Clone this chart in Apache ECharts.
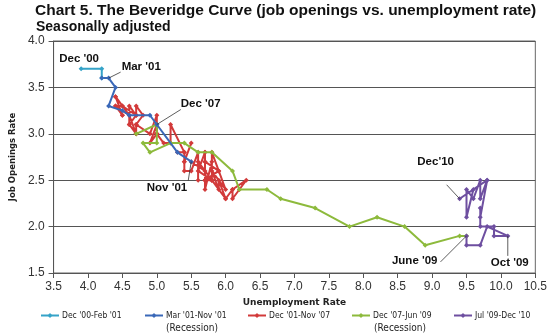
<!DOCTYPE html>
<html><head><meta charset="utf-8">
<script src="https://cdn.jsdelivr.net/npm/echarts@6/dist/echarts.min.js"></script>
<style>html,body{margin:0;padding:0;background:#fff}#c{width:550px;height:334px}</style>
</head><body><div id="c"></div>
<script>
// Dec '00 - Feb '01
const tealU = [3.9, 4.2, 4.2];
const tealJ = [3.7, 3.7, 3.6];
// Mar '01 - Nov '01 (Recession)
const blueU = [4.3, 4.4, 4.3, 4.5, 4.6, 4.9, 5.0, 5.3, 5.5];
const blueJ = [3.6, 3.5, 3.3, 3.25, 3.2, 3.2, 3.1, 2.8, 2.7];
// Dec '01 - Nov '07
const redU = [5.7,
  5.7,5.7,5.7,5.9,5.8,5.8,5.8,5.7,5.7,5.7,5.9,6.0,
  5.8,5.9,5.9,6.0,6.1,6.3,6.2,6.1,6.1,6.0,5.8,5.7,
  5.7,5.6,5.8,5.6,5.6,5.6,5.5,5.4,5.4,5.5,5.4,5.4,
  5.3,5.4,5.2,5.2,5.1,5.0,5.0,4.9,5.0,5.0,5.0,4.9,
  4.7,4.8,4.7,4.7,4.6,4.6,4.7,4.7,4.5,4.4,4.5,4.4,
  4.6,4.5,4.4,4.5,4.4,4.6,4.7,4.6,4.7,4.7,4.7];
const redJ = [2.6,
  2.8,2.5,2.7,2.6,2.8,2.5,2.7,2.4,2.7,2.5,2.6,2.4,
  2.6,2.4,2.5,2.3,2.4,2.5,2.4,2.3,2.4,2.3,2.5,2.5,
  2.8,2.6,2.5,2.7,2.5,2.8,2.6,2.6,2.7,2.9,2.7,2.8,
  2.8,2.8,3.1,2.9,2.9,3.0,3.0,2.9,3.1,3.0,3.2,3.0,
  3.1,3.2,3.3,3.2,3.3,3.1,3.2,3.2,3.3,3.4,3.2,3.3,
  3.2,3.3,3.3,3.2,3.4,3.2,3.0,3.1,3.0,3.1,3.0];
// Dec '07 - Jun '09 (Recession)
const greenU = [5.0,5.0,4.8,4.9,5.2,5.4,5.6,5.8,6.1,6.2,6.6,6.8,7.3,7.8,8.2,8.6,8.9,9.4,9.5];
const greenJ = [3.1,2.9,2.9,2.8,2.9,2.9,2.8,2.8,2.6,2.4,2.4,2.3,2.2,2.0,2.1,2.0,1.8,1.9,1.9];
// Jul '09 - Dec '10
const purpleU = [9.5,9.7,9.8,10.1,9.9,9.9,9.7,9.7,9.7,9.8,9.6,9.5,9.5,9.6,9.7,9.7,9.8,9.4];
const purpleJ = [1.8,1.8,2.0,1.9,1.9,2.0,2.0,2.2,2.1,2.5,2.4,2.1,2.4,2.3,2.5,2.3,2.5,2.3];

const seriesNames = ["Dec '00-Feb '01", "Mar '01-Nov '01", "Dec '01-Nov '07", "Dec '07-Jun '09", "Jul '09-Dec '10"];
const xTicks = ["3.5","4.0","4.5","5.0","5.5","6.0","6.5","7.0","7.5","8.0","8.5","9.0","9.5","10.0","10.5"];
const yTicks = ["1.5","2.0","2.5","3.0","3.5","4.0"];

const colors = ['#35A3C8', '#3A68B8', '#D23A3A', '#8DBA3C', '#6E4FA0'];
const sets = [[tealU,tealJ],[blueU,blueJ],[redU,redJ],[greenU,greenJ],[purpleU,purpleJ]];

const series = sets.map((s, i) => {
  const pts = s[0].map((u, k) => [u, s[1][k]]);
  if (i > 0) { const p = sets[i-1]; const n = p[0].length; pts.unshift([p[0][n-1], p[1][n-1]]); }
  return {
    name: seriesNames[i], type: 'line', data: pts, color: colors[i],
    symbol: 'diamond', symbolSize: 5, showSymbol: true,
    lineStyle: { width: 2, color: colors[i] }, itemStyle: { color: colors[i] },
    z: i === 3 ? 4 : (i === 2 ? 3 : 5), animation: false
  };
});

const legendLeft = [40, 144, 247, 351, 453];
const legends = seriesNames.map((n, i) => ({
  data: [n], left: legendLeft[i], top: 311, padding: 0, itemWidth: 18, itemHeight: 6, itemGap: 2,
  textStyle: { fontSize: 8.5, color: '#222', fontFamily: 'DejaVu Sans Condensed, DejaVu Sans', padding: [0,0,0,-2] },
  selectedMode: false
}));

const chart = echarts.init(document.getElementById('c'), null, { renderer: 'canvas' });
const FF = 'DejaVu Sans';
chart.setOption({
  animation: false,
  backgroundColor: '#fff',
  title: [
    { text: 'Chart 5. The Beveridge Curve (job openings vs. unemployment rate)', left: 35, top: 3, padding: 0,
      textStyle: { fontSize: 15.5, fontWeight: 'bold', color: '#111', fontFamily: 'Liberation Sans' } },
    { text: 'Seasonally adjusted', left: 36, top: 20, padding: 0,
      textStyle: { fontSize: 14, fontWeight: 'bold', color: '#111', fontFamily: 'Liberation Sans' } }
  ],
  legend: legends,
  grid: { left: 43, right: 13, top: 41, bottom: 61, show: true, borderColor: '#666', borderWidth: 1 },
  xAxis: {
    type: 'value', min: 3.5, max: 10.5, interval: 0.5,
    name: 'Unemployment Rate', nameLocation: 'middle', nameGap: 24,
    nameTextStyle: { fontSize: 9, fontWeight: 'bold', color: '#222', fontFamily: FF },
    axisLine: { lineStyle: { color: '#555' } },
    axisTick: { show: true, length: 5, lineStyle: { color: '#555' } },
    axisLabel: { fontSize: 12, color: '#333', margin: 8, fontFamily: 'Liberation Sans',
      formatter: v => xTicks[Math.round((v - 3.5) / 0.5)] },
    splitLine: { show: false }
  },
  yAxis: {
    type: 'value', min: 1.5, max: 4.0, interval: 0.5,
    name: 'Job Openings Rate', nameLocation: 'middle', nameGap: 32, nameRotate: 90,
    nameTextStyle: { fontSize: 8.5, fontWeight: 'bold', color: '#222', fontFamily: FF },
    axisLine: { show: true, lineStyle: { color: '#555' } },
    axisTick: { show: true, length: 5, lineStyle: { color: '#555' } },
    axisLabel: { fontSize: 12, color: '#333', margin: 9, fontFamily: 'Liberation Sans',
      formatter: v => yTicks[Math.round((v - 1.5) / 0.5)] },
    splitLine: { show: true, lineStyle: { color: '#555', width: 1 } }
  },
  series: series
});

// annotations, anchored to data points
const notes = [
  { t: "Dec '00", p: [tealU[0], tealJ[0]], dx: -2, dy: -10, align: 'center', line: false },
  { t: "Mar '01", p: [blueU[0], blueJ[0]], dx: 13, dy: -11, align: 'left', line: true, lx: 12, ly: -6 },
  { t: "Dec '07", p: [greenU[0], greenJ[0]], dx: 24, dy: -21, align: 'left', line: true, lx: 24, ly: -15 },
  { t: "Nov '01", p: [blueU[8], blueJ[8]], dx: -4, dy: 26, align: 'right', line: true, lx: -3, ly: 19 },
  { t: "Dec'10", p: [purpleU[17], purpleJ[17]], dx: -24, dy: -37, align: 'center', line: true, lx: -13, ly: -14 },
  { t: "June '09", p: [greenU[18], greenJ[18]], dx: -29, dy: 25, align: 'right', line: true, lx: -26, ly: 26 },
  { t: "Oct '09", p: [purpleU[3], purpleJ[3]], dx: 2, dy: 27, align: 'center', line: true, lx: 0, ly: 20 }
];
const g = [];
notes.forEach(n => {
  const [px, py] = chart.convertToPixel({ gridIndex: 0 }, n.p);
  g.push({ type: 'text', x: px + n.dx, y: py + n.dy, z: 100,
    style: { text: n.t, font: 'bold 11.5px "Liberation Sans"', fill: '#111', align: n.align, verticalAlign: 'middle' } });
  if (n.line) g.push({ type: 'line', z: 99,
    shape: { x1: px + n.lx, y1: py + n.ly, x2: px, y2: py },
    style: { stroke: '#333', lineWidth: 0.8 } });
});
g.push({ type: 'text', x: 192, y: 328, style: { text: '(Recession)', font: '10px "DejaVu Sans Condensed", "DejaVu Sans"', fill: '#222', align: 'center', verticalAlign: 'middle' } });
g.push({ type: 'text', x: 400, y: 328, style: { text: '(Recession)', font: '10px "DejaVu Sans Condensed", "DejaVu Sans"', fill: '#222', align: 'center', verticalAlign: 'middle' } });
chart.setOption({ graphic: g });
</script></body></html>
